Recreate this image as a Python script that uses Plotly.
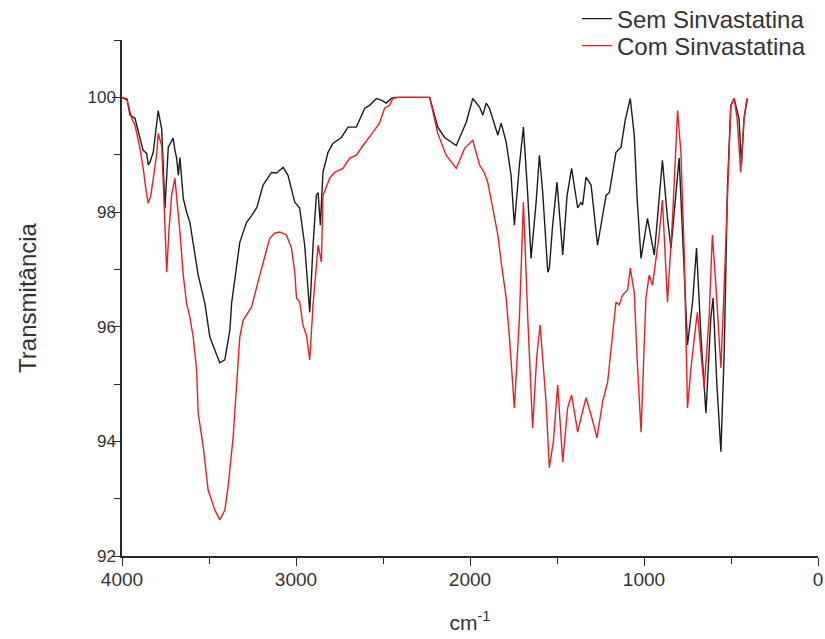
import plotly.graph_objects as go

# Wavenumber (cm^-1) and transmittance (%)
sem_wavenumber = [4000, 3971, 3954, 3925, 3897, 3879, 3858, 3849, 3839, 3820, 3805, 3792, 3772, 3753,
                  3734, 3715, 3706, 3696, 3686, 3676, 3667, 3648, 3629, 3610, 3591, 3562, 3524, 3495,
                  3466, 3438, 3409, 3380, 3370, 3351, 3323, 3284, 3254, 3225, 3189, 3141, 3112, 3074,
                  3046, 3007, 2979, 2950, 2931, 2921, 2902, 2883, 2873, 2860, 2845, 2816, 2787, 2739,
                  2701, 2653, 2605, 2577, 2538, 2510, 2481, 2452, 2433, 2232, 2185, 2146, 2079, 2022,
                  1984, 1945, 1926, 1907, 1888, 1859, 1840, 1821, 1792, 1764, 1745, 1716, 1693, 1668,
                  1649, 1620, 1601, 1582, 1553, 1544, 1525, 1500, 1467, 1442, 1416, 1381, 1362, 1353,
                  1333, 1304, 1267, 1218, 1199, 1161, 1132, 1108, 1079, 1056, 1039, 1017, 980, 941,
                  894, 865, 845, 798, 779, 750, 721, 698, 673, 644, 616, 603, 581, 558, 539, 520, 501,
                  482, 454, 440, 425, 406]
sem_transmitancia = [100.00, 99.97, 99.69, 99.63, 99.29, 99.08, 99.02, 98.82, 98.87, 99.05, 99.43, 99.77,
                     99.45, 98.07, 99.13, 99.25, 99.29, 99.08, 98.94, 98.64, 98.95, 98.24, 98.00, 97.82,
                     97.42, 96.90, 96.41, 95.82, 95.59, 95.37, 95.42, 95.94, 96.41, 96.86, 97.47, 97.82,
                     97.94, 98.08, 98.47, 98.69, 98.68, 98.78, 98.64, 98.17, 98.07, 97.42, 96.72, 96.25,
                     97.42, 98.29, 98.34, 97.77, 98.69, 99.04, 99.20, 99.30, 99.48, 99.48, 99.81, 99.86,
                     99.98, 99.95, 99.90, 99.98, 100.00, 100.00, 99.48, 99.30, 99.16, 99.56, 99.98, 99.83,
                     99.69, 99.90, 99.81, 99.51, 99.34, 99.55, 99.22, 98.64, 97.77, 98.82, 99.48, 98.29,
                     97.19, 98.17, 98.99, 98.34, 96.95, 97.02, 97.77, 98.52, 97.25, 98.29, 98.76, 98.07,
                     98.17, 98.12, 98.61, 98.47, 97.42, 98.29, 98.34, 99.04, 99.13, 99.60, 99.98, 99.34,
                     98.21, 97.19, 97.89, 97.25, 98.90, 97.89, 97.37, 98.94, 97.60, 95.68, 96.43, 97.37,
                     95.85, 94.49, 96.15, 96.50, 94.98, 93.82, 95.56, 98.47, 99.86, 99.98, 99.63, 98.82,
                     99.63, 99.98]

com_wavenumber = [4000, 3971, 3944, 3925, 3897, 3878, 3862, 3849, 3834, 3801, 3792, 3772, 3759, 3743,
                  3730, 3715, 3696, 3677, 3667, 3648, 3629, 3610, 3591, 3571, 3562, 3533, 3505, 3466,
                  3438, 3409, 3390, 3361, 3342, 3323, 3304, 3256, 3208, 3151, 3122, 3093, 3055, 3026,
                  3007, 2997, 2979, 2960, 2940, 2921, 2902, 2883, 2873, 2854, 2845, 2806, 2778, 2730,
                  2691, 2653, 2615, 2558, 2519, 2491, 2462, 2443, 2414, 2232, 2185, 2137, 2079, 2031,
                  1984, 1945, 1917, 1898, 1869, 1840, 1821, 1792, 1773, 1745, 1716, 1693, 1668, 1640,
                  1617, 1597, 1563, 1544, 1521, 1496, 1467, 1439, 1416, 1381, 1362, 1333, 1304, 1270,
                  1238, 1209, 1161, 1142, 1123, 1094, 1079, 1056, 1039, 1017, 989, 970, 951, 913, 894,
                  865, 836, 807, 788, 769, 750, 730, 702, 693, 673, 654, 626, 607, 587, 558, 539, 520,
                  501, 482, 465, 444, 425, 409]
com_transmitancia = [100.00, 99.95, 99.63, 99.51, 99.11, 98.76, 98.38, 98.15, 98.29, 98.99, 99.37, 99.16,
                     98.21, 96.95, 97.68, 98.29, 98.59, 98.00, 97.65, 96.90, 96.41, 96.17, 95.82, 95.24,
                     94.49, 93.90, 93.15, 92.80, 92.63, 92.80, 93.21, 94.08, 94.95, 95.82, 96.11, 96.34,
                     96.90, 97.54, 97.63, 97.65, 97.60, 97.37, 96.95, 96.50, 96.43, 96.03, 95.85, 95.42,
                     96.38, 97.07, 97.42, 97.13, 98.29, 98.59, 98.69, 98.76, 98.94, 98.99, 99.16, 99.39,
                     99.56, 99.81, 99.86, 99.98, 100.00, 100.00, 99.37, 98.99, 98.76, 99.11, 99.25, 98.82,
                     98.68, 98.52, 98.07, 97.60, 97.13, 96.50, 95.80, 94.58, 96.15, 98.17, 96.15, 94.23,
                     95.45, 96.03, 94.69, 93.54, 93.99, 94.98, 93.64, 94.58, 94.81, 94.16, 94.41, 94.76,
                     94.46, 94.06, 94.69, 95.03, 96.43, 96.38, 96.55, 96.64, 97.02, 96.60, 95.42, 94.16,
                     96.50, 96.90, 96.72, 97.60, 98.21, 96.43, 97.89, 99.77, 99.04, 97.30, 94.58, 95.28,
                     96.03, 96.25, 95.56, 94.93, 96.15, 97.60, 96.72, 95.28, 96.72, 98.47, 99.86, 99.98,
                     99.63, 98.69, 99.63, 99.98]

series_names = ["Sem Sinvastatina", "Com Sinvastatina"]
x_tickvals = [4000, 3000, 2000, 1000, 0]
y_tickvals = [92, 94, 96, 98, 100]

FONT = "Arial, Liberation Sans, sans-serif"
TXT = "#333333"
AX = "#2a2a2a"

fig = go.Figure()
fig.add_trace(go.Scatter(x=sem_wavenumber, y=sem_transmitancia, mode="lines",
                         name=series_names[0], legend="legend",
                         line=dict(color="#1c1c1c", width=1.4)))
fig.add_trace(go.Scatter(x=com_wavenumber, y=com_transmitancia, mode="lines",
                         name=series_names[1], legend="legend2",
                         line=dict(color="#e3202a", width=1.4)))

legend_style = dict(xanchor="left", yanchor="middle", font=dict(size=24, color=TXT),
                    bgcolor="rgba(0,0,0,0)", borderwidth=0, itemwidth=30)

fig.update_layout(
    width=825, height=639,
    margin=dict(l=122, r=7, t=40, b=83, autoexpand=False),
    paper_bgcolor="white", plot_bgcolor="white",
    font=dict(family=FONT, color=TXT, size=18),
    showlegend=True,
    legend=dict(x=0.6537, y=1.0407, **legend_style),
    legend2=dict(x=0.6537, y=0.9884, **legend_style),
    xaxis=dict(range=[4000, 0], tickvals=x_tickvals, ticktext=[str(v) for v in x_tickvals],
               showgrid=False, zeroline=False, showline=True, linecolor=AX, linewidth=1.5,
               ticks="outside", ticklen=8, tickwidth=1.3, tickcolor=AX,
               minor=dict(ticks="outside", ticklen=6, tickwidth=1.3, tickcolor=AX, dtick=500,
                          tick0=0, showgrid=False),
               tickfont=dict(size=19, color=TXT), ticklabelstandoff=-3,
               title=dict(text="cm<sup>-1</sup>", font=dict(size=21, color=TXT), standoff=27)),
    yaxis=dict(range=[92, 101], tickvals=y_tickvals, ticktext=[str(v) for v in y_tickvals],
               showgrid=False, zeroline=False, showline=True, linecolor=AX, linewidth=1.5,
               ticks="outside", ticklen=8, tickwidth=1.3, tickcolor=AX,
               minor=dict(ticks="outside", ticklen=6, tickwidth=1.3, tickcolor=AX, dtick=1,
                          tick0=0, showgrid=False),
               tickfont=dict(size=17, color=TXT), ticklabelstandoff=-7,
               title=dict(text="Transmitância", font=dict(size=24, color=TXT), standoff=44)),
)

fig.write_html("out.html", config={"displayModeBar": False},
               post_script="document.body.style.margin='0';")
